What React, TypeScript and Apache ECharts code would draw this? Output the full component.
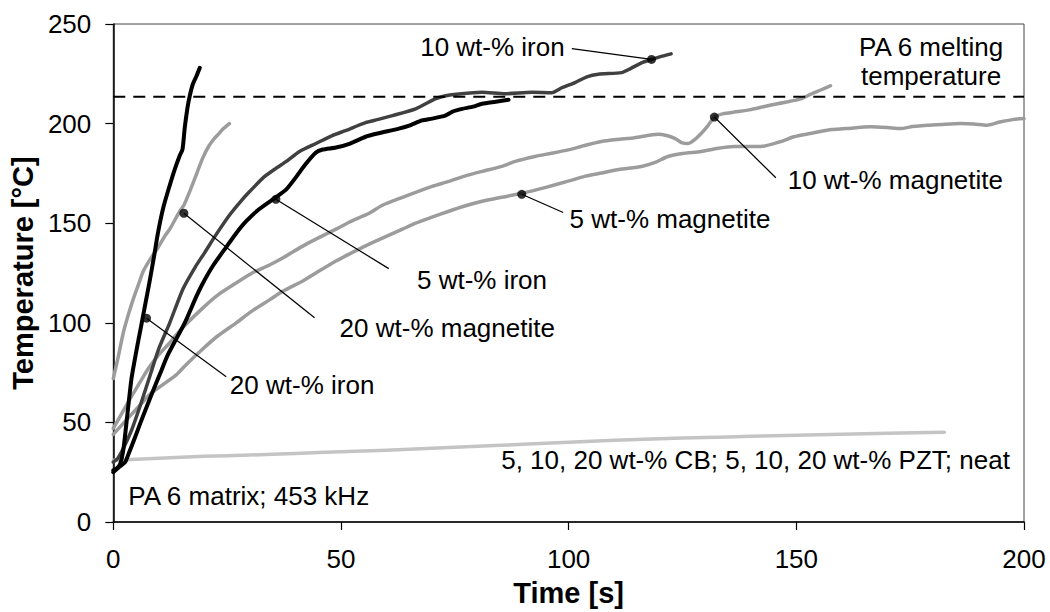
import React, { useEffect, useRef } from "react";
import * as echarts from "echarts";

// ---- data (time [s], temperature [°C]) ----
const xTicks = [0, 50, 100, 150, 200];
const yTicks = [0, 50, 100, 150, 200, 250];
const meltingTemp = 213.5;

const iron20: [number, number][] = [
  [0, 26], [0.8, 27], [1.5, 29], [2.2, 36], [3, 52], [4, 72], [5, 85], [6, 97], [7, 109], [8, 121],
  [9, 134], [9.8, 145], [11, 158], [12.4, 169], [13.5, 177], [14.6, 184], [15.2, 187], [15.7, 198],
  [16.3, 208], [16.8, 214], [17.5, 220], [18.3, 224], [19, 228],
];

const iron10: [number, number][] = [
  [0, 30], [1, 32], [2, 36], [4, 46], [6, 59], [8, 73], [10, 87], [12.4, 100], [15.3, 117], [18, 128],
  [20, 135], [22.5, 144], [25.5, 154], [28, 161], [30, 166], [33, 173], [35.7, 177.5], [38, 181],
  [40.9, 186], [44.5, 190], [48.1, 194], [51, 196.5], [55.4, 200.5], [58, 202], [61.3, 204],
  [66.4, 207.4], [70.7, 212.4], [73, 214], [75.9, 214.9], [81, 215.7], [86, 215], [91.9, 215.7],
  [96.3, 215.5], [98.5, 218], [101.4, 220.6], [104, 223.5], [106.5, 224.8], [111.6, 225.6],
  [113.5, 227.5], [116, 230.5], [118.2, 232.2], [120, 233.5], [122.5, 235],
];

const iron5: [number, number][] = [
  [0, 25], [1.5, 28], [2.6, 30], [3.5, 35], [4.7, 42], [6, 50], [8.4, 64], [10.2, 74], [12, 84],
  [15.7, 100], [18.2, 113], [19.7, 120], [22, 129], [24.8, 138], [27, 145], [29.2, 151], [32, 157],
  [35.7, 163], [38, 167], [40.1, 173], [42, 179], [44.5, 185.5], [46, 187], [48.9, 188], [52, 190],
  [55.4, 193.4], [58, 195], [62.7, 197.5], [65, 199], [67.8, 201.6], [70, 202.5], [72.9, 204],
  [74.5, 206], [76.6, 207.4], [79, 208.5], [81, 210], [84, 211], [86.8, 212],
];

const magnetite20: [number, number][] = [
  [0, 72], [1, 82], [2.2, 95], [3.3, 104], [4.4, 112], [5.5, 119], [6.6, 126], [8.4, 133],
  [9.5, 136.5], [11.3, 143.5], [12.4, 147], [14.6, 156], [15.5, 159], [16.8, 166], [18, 173],
  [19, 179], [19.7, 183], [20.8, 188], [22, 192], [23, 194.5], [24.2, 197.5], [25.5, 200],
];

const magnetite10: [number, number][] = [
  [0, 47], [2, 55], [4, 63], [6.6, 73], [8, 78], [10, 84], [12.4, 90], [15, 97], [19.7, 107.5],
  [23, 114], [27, 120], [30.5, 125], [34.3, 129], [37.2, 132.5], [41.6, 138.5], [44.5, 142],
  [48.9, 147], [51.8, 150.5], [56.2, 155], [59.1, 159], [63.5, 163], [66.4, 165.5], [70, 168.5],
  [73.7, 171], [77, 173.5], [81, 176], [85.3, 178.5], [88.3, 181], [92.6, 183.5], [96, 185],
  [99.9, 186.8], [103.5, 189], [107.2, 191], [110.5, 192], [114.5, 192.9], [119.6, 194.6],
  [121.5, 194], [123.3, 192.6], [124.8, 190.5], [126.2, 190], [127.7, 192], [129.1, 195],
  [130.6, 199], [132, 203.3], [134, 205], [136.4, 205.8], [140, 207], [143.7, 209], [147, 210.5],
  [151, 212.4], [153.2, 214.8], [155.5, 217], [157.5, 219],
];

const magnetite5: [number, number][] = [
  [0, 44], [2, 49], [4, 54], [6, 59], [8, 64], [10, 67.5], [13.9, 74], [16, 79], [19.7, 87], [23, 93.5],
  [27, 100], [30.5, 106], [34.3, 111.5], [37.2, 115.8], [41.6, 121], [44.5, 125], [48.9, 131],
  [51.8, 134.5], [56.2, 139.5], [59.1, 142.5], [63.5, 147], [66.4, 150], [70, 153], [73.7, 156],
  [77, 158.5], [81, 161], [85.3, 163], [89.7, 165], [95, 168], [99.9, 171.1], [103.5, 173.5],
  [107.2, 175.2], [111, 177], [116, 178.5], [119, 180.5], [121.8, 183.5], [125, 185], [129.1, 186],
  [132.5, 187.5], [136.4, 188.5], [142.2, 188.5], [146.6, 191], [149.5, 193.4], [153, 195],
  [156.8, 196.7], [161, 197.5], [166.3, 198.4], [170, 198], [172.9, 197.5], [175.5, 198.5],
  [178.7, 199.2], [182, 199.6], [186, 200], [189, 199.8], [191.8, 199.2], [194.7, 200.8],
  [197.5, 202], [200, 202.5],
];

const neatCbPzt: [number, number][] = [
  [0, 31], [10, 32], [20, 33], [30, 33.6], [40, 34.4], [50, 35.3], [60, 36], [70, 37], [80, 38],
  [90, 39], [100, 40], [110, 41], [120, 41.8], [130, 42.4], [140, 43], [150, 43.5], [160, 44],
  [170, 44.5], [182.5, 45],
];

// annotations: dot on curve, leader end, text anchor (all in data units)
const leaderLabels = [
  { text: "20 wt-% iron", dot: [7.3, 102.3], end: [24.8, 72.9], at: [25.6, 68.8], align: "left" },
  { text: "20 wt-% magnetite", dot: [15.5, 155], end: [44.2, 102.5], at: [49.7, 97.5], align: "left" },
  { text: "5 wt-% iron", dot: [35.7, 162], end: [60.5, 127.2], at: [66.7, 121.3], align: "left" },
  { text: "5 wt-% magnetite", dot: [89.7, 164.5], end: [98.8, 155.4], at: [100.2, 152], align: "left" },
  { text: "10 wt-% magnetite", dot: [132, 203.3], end: [145.5, 172.8], at: [148.1, 171.5], align: "left" },
  { text: "10 wt-% iron", dot: [118.2, 232.2], end: [100.7, 237.6], at: [67.4, 238.6], align: "left" },
];

const plainLabels = [
  { text: "PA 6 melting\ntemperature", at: [179.6, 231.2], align: "center" },
  { text: "PA 6 matrix; 453 kHz", at: [3.3, 12.9], align: "left" },
  { text: "5, 10, 20 wt-% CB; 5, 10, 20 wt-% PZT; neat", at: [196.9, 31.2], align: "right" },
];

const FONT = "'Liberation Sans', Arial, Helvetica, sans-serif";

export default function App() {
  const ref = useRef<HTMLDivElement>(null);

  useEffect(() => {
    const el = ref.current;
    if (!el) return;
    const chart = echarts.init(el, null, { renderer: "svg" });

    const curve = (name: string, data: [number, number][], color: string, width: number, z: number) => ({
      type: "line",
      name,
      data,
      symbol: "none",
      showSymbol: false,
      smooth: 0.2,
      silent: true,
      z,
      lineStyle: { color, width, cap: "round", join: "round" },
    });

    const leaders = leaderLabels.map((a, i) => ({
      type: "line",
      name: "leader" + i,
      data: [a.dot, a.end],
      symbol: "none",
      silent: true,
      z: 6,
      lineStyle: { color: "#000", width: 1.2 },
    }));

    const axisCommon = {
      axisLine: { show: true, lineStyle: { color: "#000", width: 1.5 } },
      axisTick: { show: true, inside: false, length: 8, lineStyle: { color: "#000", width: 1.2 } },
      splitLine: { show: false },
      nameTextStyle: { fontFamily: FONT, fontSize: 29, fontWeight: "bold", color: "#000" },
    };

    chart.setOption({
      animation: false,
      backgroundColor: "#fff",
      grid: {
        left: 110, right: 26, top: 24, bottom: 83,
        show: true, borderColor: "#444", borderWidth: 1, backgroundColor: "transparent",
      },
      xAxis: {
        type: "value",
        min: xTicks[0],
        max: xTicks[xTicks.length - 1],
        interval: xTicks[1] - xTicks[0],
        name: "Time [s]",
        nameLocation: "middle",
        nameGap: 56,
        ...axisCommon,
        axisLabel: { fontFamily: FONT, fontSize: 26, color: "#000", margin: 24 },
      },
      yAxis: {
        type: "value",
        min: yTicks[0],
        max: yTicks[yTicks.length - 1],
        interval: yTicks[1] - yTicks[0],
        name: "Temperature [°C]",
        nameLocation: "middle",
        nameGap: 66,
        ...axisCommon,
        axisLabel: { fontFamily: FONT, fontSize: 26, color: "#000", margin: 22 },
      },
      series: [
        curve("5, 10, 20 wt-% CB; 5, 10, 20 wt-% PZT; neat", neatCbPzt, "#c4c4c4", 3.5, 2),
        curve("5 wt-% magnetite", magnetite5, "#9c9c9c", 3.5, 3),
        curve("10 wt-% magnetite", magnetite10, "#9c9c9c", 3.5, 3),
        curve("20 wt-% magnetite", magnetite20, "#9c9c9c", 3.5, 3),
        curve("10 wt-% iron", iron10, "#404040", 3.5, 4),
        curve("5 wt-% iron", iron5, "#000000", 4, 4),
        curve("20 wt-% iron", iron20, "#000000", 4, 4),
        {
          type: "line",
          name: "PA 6 melting temperature",
          data: [[xTicks[0], meltingTemp], [xTicks[xTicks.length - 1], meltingTemp]],
          symbol: "none",
          silent: true,
          z: 5,
          lineStyle: { color: "#000", width: 2, type: [12, 8] },
        },
        ...leaders,
        {
          type: "scatter",
          name: "dots",
          data: leaderLabels.map((a) => a.dot),
          symbol: "circle",
          symbolSize: 9,
          silent: true,
          z: 7,
          itemStyle: { color: "#000" },
        },
      ],
    });

    const toPx = (p: number[]) => chart.convertToPixel({ gridIndex: 0 }, p) as number[];
    const textEl = (text: string, at: number[], align: string) => {
      const [x, y] = toPx(at);
      return {
        type: "text",
        x,
        y,
        silent: true,
        z: 10,
        style: {
          text,
          fill: "#000",
          fontFamily: FONT,
          fontSize: 26,
          lineHeight: 29,
          align,
          verticalAlign: "middle",
        },
      };
    };

    chart.setOption({
      graphic: [
        ...leaderLabels.map((a) => textEl(a.text, a.at, a.align)),
        ...plainLabels.map((a) => textEl(a.text, a.at, a.align)),
      ],
    });

    return () => chart.dispose();
  }, []);

  return (
    <div
      ref={ref}
      style={{ position: "fixed", left: 0, top: 0, width: 1050, height: 612, background: "#fff" }}
    />
  );
}
